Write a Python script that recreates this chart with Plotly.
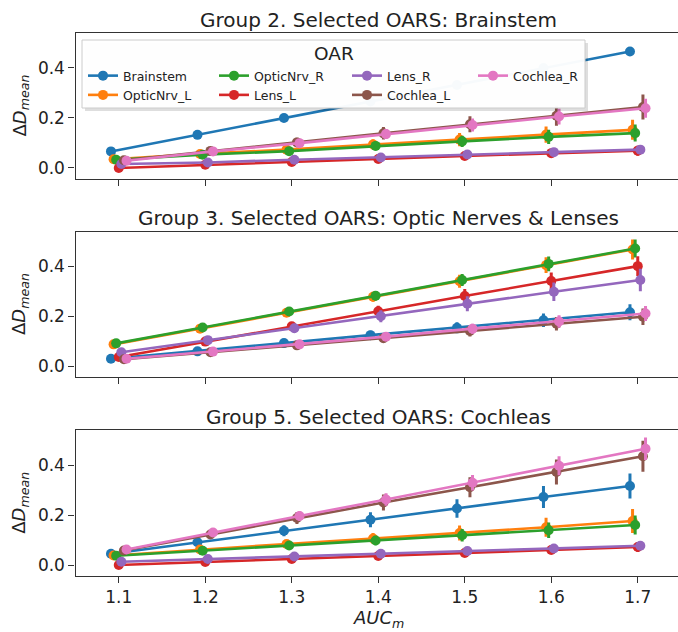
import plotly.graph_objects as go

W, H = 678, 632

oars = ["Brainstem", "OpticNrv_L", "OpticNrv_R", "Lens_L", "Lens_R", "Cochlea_L", "Cochlea_R"]
colors = ["#1f77b4", "#ff7f0e", "#2ca02c", "#d62728", "#9467bd", "#8c564b", "#e377c2"]
auc = [1.1, 1.2, 1.3, 1.4, 1.5, 1.6, 1.7]
x_ticklabels = ["1.1", "1.2", "1.3", "1.4", "1.5", "1.6", "1.7"]
titles = ["Group 2. Selected OARS: Brainstem",
          "Group 3. Selected OARS: Optic Nerves & Lenses",
          "Group 5. Selected OARS: Cochleas"]
legend_title = "OAR"

# Group 2 means
g2_brainstem = [0.066, 0.132, 0.199, 0.265, 0.331, 0.398, 0.464]
g2_opticnrv_l = [0.035, 0.056, 0.073, 0.094, 0.113, 0.133, 0.152]
g2_opticnrv_r = [0.033, 0.053, 0.067, 0.088, 0.106, 0.124, 0.139]
g2_lens_l = [0.000, 0.013, 0.024, 0.036, 0.048, 0.059, 0.069]
g2_lens_r = [0.016, 0.022, 0.033, 0.042, 0.054, 0.063, 0.073]
g2_cochlea_l = [0.031, 0.068, 0.102, 0.138, 0.174, 0.208, 0.243]
g2_cochlea_r = [0.029, 0.066, 0.099, 0.135, 0.171, 0.205, 0.238]
# Group 2 error half-widths
g2_brainstem_err = [0.004, 0.005, 0.006, 0.008, 0.009, 0.011, 0.012]
g2_opticnrv_l_err = [0.006, 0.010, 0.014, 0.020, 0.026, 0.032, 0.040]
g2_opticnrv_r_err = [0.006, 0.009, 0.012, 0.017, 0.022, 0.028, 0.034]
g2_lens_l_err = [0.005, 0.007, 0.009, 0.011, 0.013, 0.016, 0.020]
g2_lens_r_err = [0.004, 0.006, 0.008, 0.010, 0.012, 0.014, 0.016]
g2_cochlea_l_err = [0.006, 0.012, 0.018, 0.025, 0.032, 0.040, 0.050]
g2_cochlea_r_err = [0.006, 0.010, 0.015, 0.020, 0.026, 0.032, 0.038]

# Group 3 means
g3_brainstem = [0.029, 0.059, 0.092, 0.124, 0.154, 0.184, 0.216]
g3_opticnrv_l = [0.087, 0.150, 0.214, 0.278, 0.340, 0.405, 0.468]
g3_opticnrv_r = [0.091, 0.155, 0.219, 0.282, 0.345, 0.410, 0.472]
g3_lens_l = [0.036, 0.098, 0.160, 0.220, 0.281, 0.341, 0.401]
g3_lens_r = [0.055, 0.104, 0.152, 0.200, 0.250, 0.298, 0.345]
g3_cochlea_l = [0.027, 0.055, 0.083, 0.112, 0.141, 0.170, 0.198]
g3_cochlea_r = [0.029, 0.058, 0.087, 0.118, 0.150, 0.179, 0.211]
# Group 3 error half-widths
g3_brainstem_err = [0.006, 0.010, 0.014, 0.018, 0.022, 0.027, 0.032]
g3_opticnrv_l_err = [0.006, 0.010, 0.015, 0.020, 0.026, 0.032, 0.040]
g3_opticnrv_r_err = [0.006, 0.010, 0.014, 0.019, 0.024, 0.030, 0.036]
g3_lens_l_err = [0.008, 0.012, 0.017, 0.022, 0.028, 0.034, 0.040]
g3_lens_r_err = [0.008, 0.013, 0.018, 0.024, 0.030, 0.037, 0.045]
g3_cochlea_l_err = [0.005, 0.009, 0.013, 0.017, 0.022, 0.027, 0.033]
g3_cochlea_r_err = [0.005, 0.008, 0.012, 0.016, 0.020, 0.025, 0.030]

# Group 5 means
g5_brainstem = [0.045, 0.091, 0.137, 0.181, 0.226, 0.272, 0.316]
g5_opticnrv_l = [0.038, 0.062, 0.084, 0.106, 0.128, 0.151, 0.176]
g5_opticnrv_r = [0.037, 0.057, 0.078, 0.098, 0.119, 0.139, 0.160]
g5_lens_l = [0.000, 0.012, 0.024, 0.036, 0.048, 0.060, 0.072]
g5_lens_r = [0.013, 0.024, 0.034, 0.045, 0.056, 0.066, 0.077]
g5_cochlea_l = [0.058, 0.122, 0.188, 0.250, 0.311, 0.372, 0.435]
g5_cochlea_r = [0.062, 0.130, 0.196, 0.262, 0.329, 0.397, 0.465]
# Group 5 error half-widths
g5_brainstem_err = [0.006, 0.014, 0.022, 0.030, 0.037, 0.044, 0.050]
g5_opticnrv_l_err = [0.006, 0.010, 0.016, 0.022, 0.030, 0.038, 0.048]
g5_opticnrv_r_err = [0.006, 0.010, 0.014, 0.019, 0.025, 0.031, 0.038]
g5_lens_l_err = [0.005, 0.007, 0.009, 0.011, 0.013, 0.016, 0.020]
g5_lens_r_err = [0.004, 0.006, 0.008, 0.010, 0.012, 0.014, 0.016]
g5_cochlea_l_err = [0.008, 0.016, 0.024, 0.032, 0.040, 0.050, 0.062]
g5_cochlea_r_err = [0.007, 0.013, 0.019, 0.025, 0.031, 0.038, 0.045]

groups = [
    ([g2_brainstem, g2_opticnrv_l, g2_opticnrv_r, g2_lens_l, g2_lens_r, g2_cochlea_l, g2_cochlea_r],
     [g2_brainstem_err, g2_opticnrv_l_err, g2_opticnrv_r_err, g2_lens_l_err, g2_lens_r_err, g2_cochlea_l_err, g2_cochlea_r_err]),
    ([g3_brainstem, g3_opticnrv_l, g3_opticnrv_r, g3_lens_l, g3_lens_r, g3_cochlea_l, g3_cochlea_r],
     [g3_brainstem_err, g3_opticnrv_l_err, g3_opticnrv_r_err, g3_lens_l_err, g3_lens_r_err, g3_cochlea_l_err, g3_cochlea_r_err]),
    ([g5_brainstem, g5_opticnrv_l, g5_opticnrv_r, g5_lens_l, g5_lens_r, g5_cochlea_l, g5_cochlea_r],
     [g5_brainstem_err, g5_opticnrv_l_err, g5_opticnrv_r_err, g5_lens_l_err, g5_lens_r_err, g5_cochlea_l_err, g5_cochlea_r_err]),
]

# layout (pixels)
x_left_px = 75.5
px_per_unit = 865.0
panel_px = [(32.5, 178.5), (231.5, 376.5), (430.0, 575.5)]
y_range = [-0.042, 0.54]
x_range = [1.05, 1.05 + (W - x_left_px) / px_per_unit]
dodge_step = 0.003
# legend: four column legends inside one framed box
legend_cols = ["legend", "legend", "legend2", "legend2", "legend3", "legend3", "legend4"]
legend_col_x = {"legend": 83, "legend2": 214, "legend3": 347, "legend4": 473}
legend_rows_top = 61
legend_frame = (82, 40, 585, 108)  # left, top, right, bottom (px)

FONT = "DejaVu Sans"
TXT = "#222222"
fig = go.Figure()

for gi, (means, errs) in enumerate(groups):
    ax_id = "" if gi == 0 else str(gi + 1)
    for si, name in enumerate(oars):
        off = (si - 3) * dodge_step
        xs = [a + off for a in auc]
        fig.add_trace(go.Scatter(
            x=xs, y=means[si], mode="lines+markers", name=name,
            xaxis="x" + ax_id, yaxis="y" + ax_id,
            line=dict(color=colors[si], width=2.6),
            marker=dict(color=colors[si], size=10),
            error_y=dict(type="data", array=errs[si], visible=True,
                         color=colors[si], thickness=3, width=0),
            showlegend=(gi == 0), legend=legend_cols[si],
        ))

axis_common = dict(showline=True, linecolor="#333333", linewidth=1.3, mirror=True,
                   ticks="outside", ticklen=6, tickwidth=1.2, tickcolor="#333333",
                   showgrid=False, zeroline=False, automargin=False,
                   tickfont=dict(family=FONT, size=17, color=TXT))

layout = dict(width=W, height=H, margin=dict(l=0, r=0, t=0, b=0),
              plot_bgcolor="white", paper_bgcolor="white",
              font=dict(family=FONT, color=TXT), annotations=[], shapes=[])

x0 = x_left_px / W
full_right = x_left_px + 7 * 86.5
for gi in range(3):
    top, bot = panel_px[gi]
    ax_id = "" if gi == 0 else str(gi + 1)
    layout["xaxis" + ax_id] = dict(axis_common, domain=[x0, 1.0], range=x_range,
                                   tickvals=auc, ticktext=x_ticklabels,
                                   showticklabels=(gi == 2),
                                   anchor="y" + ax_id)
    layout["yaxis" + ax_id] = dict(axis_common, domain=[1 - bot / H, 1 - top / H], range=y_range,
                                   tickvals=[0.0, 0.2, 0.4], ticktext=["0.0", "0.2", "0.4"],
                                   anchor="x" + ax_id)
    layout["annotations"].append(dict(
        text=titles[gi], x=(x_left_px + full_right) / 2 / W, y=1 - (top - 13) / H,
        xref="paper", yref="paper", xanchor="center", yanchor="middle", showarrow=False,
        font=dict(family=FONT, size=20, color=TXT)))
    layout["annotations"].append(dict(
        text="Δ<i>D</i><sub><i>mean</i></sub>", x=20 / W, y=1 - (top + bot) / 2 / H,
        xref="paper", yref="paper", xanchor="center", yanchor="middle", showarrow=False,
        textangle=-90, font=dict(family=FONT, size=18, color=TXT)))

layout["annotations"].append(dict(
    text="<i>AUC</i><sub><i>m</i></sub>", x=((1.4 - x_range[0]) * px_per_unit + x_left_px) / W,
    y=1 - 619 / H, xref="paper", yref="paper", xanchor="center", yanchor="middle",
    showarrow=False, font=dict(family=FONT, size=18, color=TXT)))

# legend frame (shadow + box) and centred title
fl, ft, fr, fb = legend_frame
layout["shapes"].append(dict(type="rect", xref="paper", yref="paper", layer="above",
                             x0=(fl + 3) / W, x1=(fr + 3) / W, y0=1 - (fb + 3) / H, y1=1 - (ft + 3) / H,
                             fillcolor="rgba(0,0,0,0.13)", line=dict(width=0)))
layout["shapes"].append(dict(type="rect", xref="paper", yref="paper", layer="above",
                             x0=fl / W, x1=fr / W, y0=1 - fb / H, y1=1 - ft / H,
                             fillcolor="rgba(255,255,255,0.97)", line=dict(color="#cccccc", width=1)))
layout["annotations"].append(dict(
    text=legend_title, x=(fl + fr) / 2 / W, y=1 - 53 / H, xref="paper", yref="paper",
    xanchor="center", yanchor="middle", showarrow=False,
    font=dict(family=FONT, size=18.5, color=TXT)))

for lg, lx in legend_col_x.items():
    layout[lg] = dict(
        orientation="v", x=lx / W, y=1 - legend_rows_top / H, xanchor="left", yanchor="top",
        bgcolor="rgba(0,0,0,0)", borderwidth=0, itemwidth=30, tracegroupgap=0,
        font=dict(family=FONT, size=12.5, color=TXT))

fig.update_layout(**layout)
fig.write_html("out.html")
